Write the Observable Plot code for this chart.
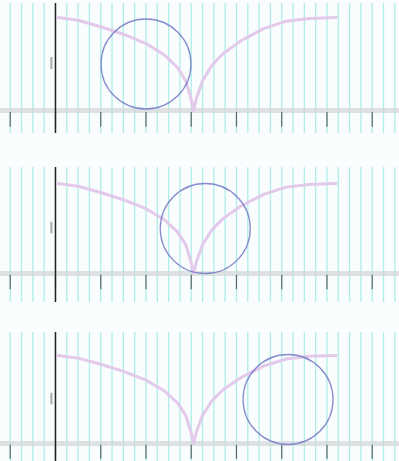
<!DOCTYPE html>
<html>
<head>
<meta charset="utf-8">
<script src="https://cdn.jsdelivr.net/npm/d3@7"></script>
<script src="https://cdn.jsdelivr.net/npm/@observablehq/plot@0.6"></script>
<style>
  html, body { margin: 0; padding: 0; background: #f9fdfd; }
  #chart svg { display: block; }
</style>
</head>
<body>
<div id="chart"></div>
<script>
// Curve (same in every panel)
const curveX = [0.05, 0.5, 1.0, 1.5, 2.0, 2.4, 2.7, 2.88, 3.0, 3.05, 3.12, 3.25, 3.45, 3.7, 4.1, 4.6, 5.1, 5.6, 6.2];
const curveY = [1.0, 0.97, 0.90, 0.82, 0.72, 0.60, 0.46, 0.32, 0.12, 0.0, 0.14, 0.32, 0.48, 0.61, 0.75, 0.88, 0.96, 0.99, 1.0];
// Circle position per panel
const circleX = [2.0, 3.31, 5.14];
const circleY = [0.5, 0.5, 0.5];
// Ticks and grid
const xTicks = [-1, 0, 1, 2, 3, 4, 5, 6, 7];
const gridX = d3.range(-1, 7.75, 0.25);
const yMarkX = [-0.09];

const panels = [
  {height: 167, marginTop: 3, marginBottom: 34, y: [-0.247, 1.15]},
  {height: 165, marginTop: 0, marginBottom: 30, y: [-0.322, 1.178]},
  {height: 129, marginTop: 0, marginBottom: 0, y: [-0.2045, 1.261]}
];

const curve = curveX.map((x, i) => ({x, y: curveY[i]}));
const root = document.getElementById("chart");

panels.forEach((p, i) => {
  const chart = Plot.plot({
    width: 399,
    height: p.height,
    marginLeft: 0,
    marginRight: 0,
    marginTop: p.marginTop,
    marginBottom: p.marginBottom,
    style: {background: "transparent"},
    x: {domain: [-1.215, 7.603], axis: null},
    y: {domain: p.y, axis: null},
    marks: [
      Plot.ruleX(gridX, {stroke: "#aeede8", strokeWidth: 1.3}),
      Plot.ruleY([0], {stroke: "#d3d7d7", strokeWidth: 5, strokeOpacity: 0.75}),
      Plot.ruleX(xTicks, {y1: -0.02, y2: -0.18, stroke: "#5d6866", strokeWidth: 1.2}),
      Plot.ruleX([0], {stroke: "#222", strokeWidth: 1.5}),
      Plot.ruleX(yMarkX, {y1: 0.44, y2: 0.57, stroke: "#aaa", strokeWidth: 2}),
      Plot.line(curve, {x: "x", y: "y", stroke: "#e3c9ea", strokeWidth: 3, curve: "linear"}),
      Plot.dot([{x: circleX[i], y: circleY[i]}], {x: "x", y: "y", r: 45, stroke: "#6a70c2", strokeOpacity: 0.8, strokeWidth: 1.3, fill: "none"})
    ]
  });
  root.appendChild(chart);
});
</script>
</body>
</html>
